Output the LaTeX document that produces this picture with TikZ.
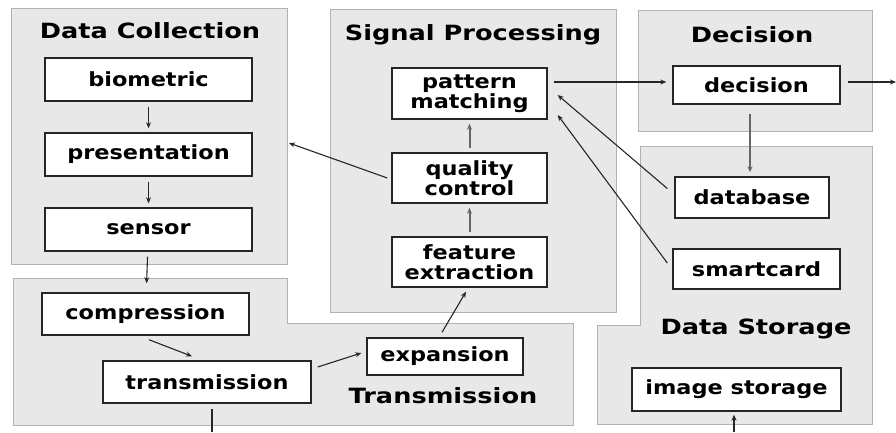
\documentclass[tikz,border=0pt]{standalone}
\usepackage{fontspec}
\newfontfamily\boxfont{DejaVu Sans}[FakeStretch=1.15]
\newfontfamily\ttlfont{DejaVu Sans}[FakeStretch=1.22]
\usetikzlibrary{arrows.meta,calc}
\begin{document}
\begin{tikzpicture}[x=1pt,y=-1pt,
  grp/.style={fill=black!9,draw=black!30,line width=0.9pt},
  box/.style={draw=black!85,fill=white,line width=1.4pt,inner sep=0pt,align=center,font=\boxfont\fontsize{19.5}{20}\selectfont\bfseries},
  ttl/.style={font=\ttlfont\fontsize{21}{21}\selectfont\bfseries,inner sep=0pt},
  arr/.style={-{Stealth[length=6pt,width=5pt]},line width=1.1pt,black!85},
  garr/.style={-{Stealth[length=6pt,width=5pt]},line width=2pt,black!60},
  ln/.style={line width=1.1pt,black!85}]
\useasboundingbox (0,0) rectangle (896,432);
% groups
\path[grp] (11,8) rectangle (287,264);
\path[grp] (330,9) rectangle (616,312);
\path[grp] (638,10) rectangle (872,131);
\path[grp] (13,278) -- (287,278) -- (287,323) -- (573,323) -- (573,425) -- (13,425) -- cycle;
\path[grp] (640,146) -- (872,146) -- (872,424) -- (597,424) -- (597,325) -- (640,325) -- cycle;
% titles
\node[ttl] (tdc) at (150,31) {Data Collection};
\node[ttl] (tsp) at (473,35) {Signal Processing};
\node[ttl] (tde) at (752,35) {Decision};
\node[ttl] (tds) at (756,329) {Data Storage};
\node[ttl] (ttr) at (443,396) {Transmission};
% boxes
\node[box,minimum width=207pt,minimum height=43pt] (bio) at (148.5,79.5) {biometric};
\node[box,minimum width=207pt,minimum height=43pt] (pre) at (148.5,154.5) {presentation};
\node[box,minimum width=207pt,minimum height=43pt] (sen) at (148.5,229.5) {sensor};
\node[box,minimum width=207pt,minimum height=42pt] (com) at (145.5,314) {compression};
\node[box,minimum width=208pt,minimum height=42pt] (tra) at (207,382) {transmission};
\node[box,minimum width=156pt,minimum height=37pt] (exp) at (445,356.5) {expansion};
\node[box,minimum width=155pt,minimum height=51pt] (pat) at (469.5,93.5) {pattern\\matching};
\node[box,minimum width=155pt,minimum height=50pt] (qua) at (469.5,178) {quality\\control};
\node[box,minimum width=155pt,minimum height=50pt] (fea) at (469.5,262) {feature\\extraction};
\node[box,minimum width=167pt,minimum height=38pt] (dec) at (756.5,85) {decision};
\node[box,minimum width=154pt,minimum height=41pt] (dab) at (752,197.5) {database};
\node[box,minimum width=167pt,minimum height=40pt] (sma) at (756.5,269) {smartcard};
\node[box,minimum width=209pt,minimum height=43pt] (ims) at (736.5,389.5) {image storage};
% free ends
\coordinate (dcE) at (289,143);
\coordinate (out) at (896,82);
\coordinate (botL) at (212,432);
\coordinate (botR) at (734,432);
% connectors
\draw[arr,shorten <=5pt,shorten >=4pt] (bio) -- (pre);
\draw[arr,shorten <=5pt,shorten >=4pt] (pre) -- (sen);
\draw[arr,shorten <=5pt,shorten >=9pt] (sen) -- (com);
\draw[arr] ($(com.south)+(3.5,4)$) -- ($(tra.north)+(-15,-4)$);
\draw[arr] ($(tra.east)+(6,-15)$) -- ($(exp.west)+(-5,-3.5)$);
\draw[arr] ($(exp.north)+(-3,-5)$) -- ($(fea.south)+(-3.5,4)$);
\draw[garr,shorten <=4pt,shorten >=4pt] (fea) -- (qua);
\draw[garr,shorten <=4pt,shorten >=4pt] (qua) -- (pat);
\draw[arr] ($(qua.west)+(-4,0)$) -- (dcE);
\draw[arr] ($(pat.east)+(6,-11.5)$) -- ($(dec.west)+(-6,-3)$);
\draw[arr] ($(dec.east)+(7,-3)$) -- (out);
\draw[garr] ($(dec.south)+(-6.5,9)$) -- ($(dab.north)+(-2,-4)$);
\draw[arr] ($(dab.west)+(-7,-9)$) -- ($(pat.east)+(10,1.5)$);
\draw[arr] ($(sma.west)+(-5,-6)$) -- ($(pat.east)+(10,21.5)$);
\draw[ln] ($(tra.south)+(5,5)$) -- (botL);
\draw[arr] (botR) -- ($(ims.south)+(-2.5,3)$);
\end{tikzpicture}
\end{document}
